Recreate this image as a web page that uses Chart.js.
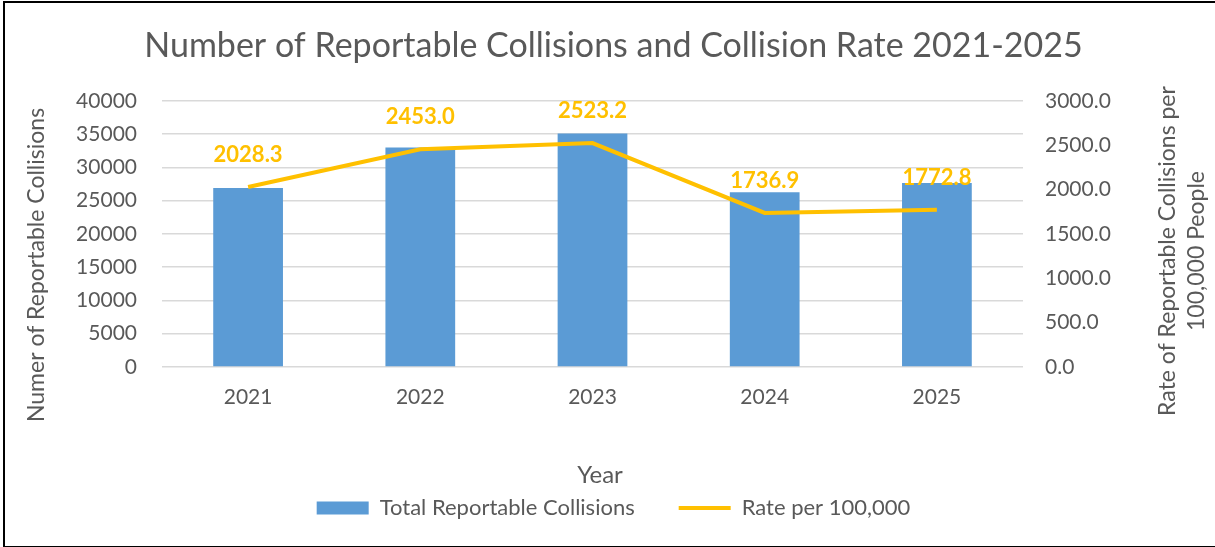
<!DOCTYPE html>
<html>
<head>
<meta charset="utf-8">
<script src="https://cdn.jsdelivr.net/npm/chart.js@4"></script>
<style>
    body { margin: 0; background: #fff; }
    #wrap { position: relative; width: 1215px; height: 547px; }
    #frame { position: absolute; left: 3px; top: 1px; width: 1210px; height: 543px; border: 2px solid #000; border-right: none; pointer-events: none; }
</style>
</head>
<body>
<div id="wrap">
    <canvas id="collision-chart" width="1215" height="547"></canvas>
    <div id="frame"></div>
</div>
<script>
// Chart data
const years = ['2021', '2022', '2023', '2024', '2025'];
const totalCollisions = [26900, 33000, 35100, 26250, 27650];
const ratePer100k = [2028.3, 2453.0, 2523.2, 1736.9, 1772.8];
const countTicks = [0, 5000, 10000, 15000, 20000, 25000, 30000, 35000, 40000];
const rateTicks = [0, 500, 1000, 1500, 2000, 2500, 3000];

const textColor = '#595959';
const fontFamily = 'Lato, "Open Sans", sans-serif';

// Draws the value labels above the rate line
const rateLabels = {
    id: 'rateLabels',
    afterDatasetsDraw(chart) {
        const meta = chart.getDatasetMeta(1);
        const ctx = chart.ctx;
        ctx.save();
        ctx.font = 'bold 22px ' + fontFamily;
        ctx.fillStyle = '#FFC000';
        ctx.textAlign = 'center';
        ctx.textBaseline = 'middle';
        meta.data.forEach(function(point, i) {
            ctx.fillText(ratePer100k[i].toFixed(1), point.x, point.y - 32);
        });
        ctx.restore();
    }
};

// Axis titles (right one reads bottom-to-top like the left one)
const axisTitles = {
    id: 'axisTitles',
    afterDraw(chart) {
        const ctx = chart.ctx;
        ctx.save();
        ctx.fillStyle = textColor;
        ctx.textAlign = 'center';
        ctx.textBaseline = 'middle';

        ctx.font = '24px ' + fontFamily;
        ctx.fillText('Year', 600, 475);

        ctx.font = '23px ' + fontFamily;
        ctx.save();
        ctx.translate(37, 265);
        ctx.rotate(-Math.PI / 2);
        ctx.fillText('Numer of Reportable Collisions', 0, 0);
        ctx.restore();

        ctx.save();
        ctx.translate(1168, 251);
        ctx.rotate(-Math.PI / 2);
        ctx.fillText('Rate of Reportable Collisions per', 0, 0);
        ctx.fillText('100,000 People', 0, 29);
        ctx.restore();

        ctx.restore();
    }
};

new Chart(document.getElementById('collision-chart'), {
    type: 'bar',
    data: {
        labels: years,
        datasets: [
            {
                label: 'Total Reportable Collisions',
                data: totalCollisions,
                backgroundColor: '#5B9BD5',
                yAxisID: 'y',
                order: 2,
                barPercentage: 0.81,
                categoryPercentage: 0.5,
                pointStyle: 'rect'
            },
            {
                type: 'line',
                label: 'Rate per 100,000',
                data: ratePer100k,
                borderColor: '#FFC000',
                backgroundColor: '#FFC000',
                borderWidth: 4,
                pointRadius: 0,
                tension: 0,
                yAxisID: 'y1',
                order: 1,
                pointStyle: 'line'
            }
        ]
    },
    plugins: [rateLabels, axisTitles],
    options: {
        responsive: false,
        animation: false,
        layout: {
            padding: { left: 12, right: 0, top: 0, bottom: 18 }
        },
        plugins: {
            title: {
                display: true,
                text: 'Number of Reportable Collisions and Collision Rate 2021-2025',
                color: textColor,
                font: { family: fontFamily, size: 34, weight: 'normal' },
                padding: { top: 26, bottom: 34 }
            },
            legend: {
                position: 'bottom',
                labels: {
                    color: textColor,
                    font: { family: fontFamily, size: 22 },
                    usePointStyle: true,
                    pointStyleWidth: 52,
                    boxHeight: 13,
                    padding: 44,
                    sort: function(a, b) { return a.datasetIndex - b.datasetIndex; }
                }
            },
            tooltip: { enabled: false }
        },
        scales: {
            x: {
                grid: { display: false, drawTicks: false },
                border: { display: false },
                ticks: { color: textColor, font: { family: fontFamily, size: 21 }, padding: 18 },
                afterFit: function(scale) { scale.height = 86; }
            },
            y: {
                position: 'left',
                min: 0,
                max: 40000,
                afterBuildTicks: function(scale) {
                    scale.ticks = countTicks.map(function(v) { return { value: v }; });
                },
                ticks: {
                    color: textColor,
                    font: { family: fontFamily, size: 21 },
                    padding: 25,
                    callback: function(value) { return String(value); }
                },
                grid: { color: '#D9D9D9', lineWidth: 1.5, drawTicks: false },
                border: { display: false },
                afterFit: function(scale) { scale.width = 150; }
            },
            y1: {
                position: 'right',
                min: 0,
                max: 3000,
                afterBuildTicks: function(scale) {
                    scale.ticks = rateTicks.map(function(v) { return { value: v }; });
                },
                ticks: {
                    color: textColor,
                    font: { family: fontFamily, size: 21 },
                    padding: 22,
                    callback: function(value) { return value.toFixed(1); }
                },
                grid: { display: false, drawTicks: false },
                border: { display: false },
                afterFit: function(scale) { scale.width = 192; }
            }
        }
    }
});
</script>
</body>
</html>
